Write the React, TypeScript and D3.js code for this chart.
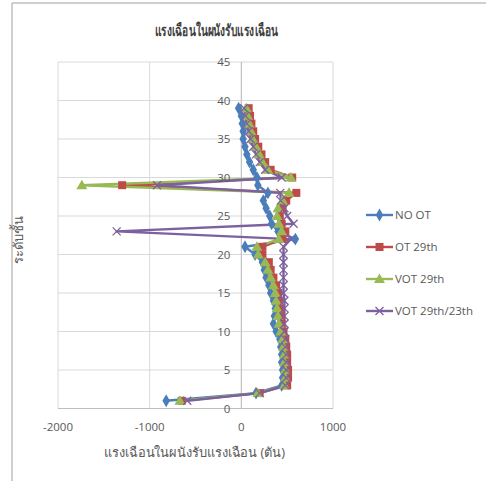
import React from "react";
import * as d3 from "d3";

// Storey levels (1..39)
const floors: number[] = d3.range(1, 40);

// Shear force in the shear walls (tons), listed by storey from floor 1 upward
const noOT: number[] = [
  -820, 160, 440, 450, 450, 440, 440, 430, 420, 380,
  350, 360, 370, 350, 320, 300, 270, 250, 230, 150,
  40, 590, 400, 330, 310, 270, 240, 290, 180, 170,
  130, 90, 60, 40, 20, 20, 10, 0, -30,
];
const ot29: number[] = [
  -650, 200, 500, 510, 510, 500, 500, 490, 480, 460,
  440, 430, 420, 410, 400, 380, 350, 320, 300, 230,
  230, 450, 480, 440, 420, 450, 490, 600, -1300, 555,
  320, 260, 220, 185, 150, 130, 110, 95, 80,
];
const vot29: number[] = [
  -670, 180, 470, 480, 480, 470, 470, 460, 450, 430,
  410, 400, 390, 380, 370, 350, 320, 290, 260, 185,
  170, 410, 440, 410, 390, 400, 450, 520, -1740, 540,
  290, 230, 195, 160, 125, 105, 85, 70, 55,
];
const vot2923: number[] = [
  -590, 200, 480, 490, 490, 490, 490, 480, 480, 470,
  470, 470, 470, 470, 460, 460, 460, 460, 460, 460,
  460, 540, -1360, 570, 500, 470, 430, 425, -920, 440,
  260, 200, 160, 130, 100, 80, 60, 45, 30,
];

const seriesNames: string[] = ["NO OT", "OT 29th", "VOT 29th", "VOT 29th/23th"];
const seriesColors: string[] = ["#4A7EBB", "#BE4B48", "#98B954", "#7D60A0"];
const seriesValues: number[][] = [noOT, ot29, vot29, vot2923];
const markerKinds: string[] = ["diamond", "square", "triangle", "x"];

const xTicks: number[] = [-2000, -1000, 0, 1000];
const yTicks: number[] = [0, 5, 10, 15, 20, 25, 30, 35, 40, 45];

const title = "แรงเฉือนในผนังรับแรงเฉือน";
const xTitle = "แรงเฉือนในผนังรับแรงเฉือน (ตัน)";
const yTitle = "ระดับชั้น";

const W = 486;
const H = 481;
const plot = { left: 58, right: 333, top: 62, bottom: 408.5 };

const FONT = "'Open Sans', 'Noto Sans', 'DejaVu Sans', sans-serif";

function Marker({ kind, x, y, color }: { kind: string; x: number; y: number; color: string }) {
  if (kind === "diamond") {
    const s = d3.symbol(d3.symbolDiamond, 48)();
    return <path d={s || ""} transform={`translate(${x},${y})`} fill={color} />;
  }
  if (kind === "square") {
    return <rect x={x - 4} y={y - 4} width={8} height={8} fill={color} />;
  }
  if (kind === "triangle") {
    const s = d3.symbol(d3.symbolTriangle, 52)();
    return <path d={s || ""} transform={`translate(${x},${y + 0.8})`} fill={color} />;
  }
  const r = 4;
  return (
    <path
      d={`M${x - r},${y - r}L${x + r},${y + r}M${x - r},${y + r}L${x + r},${y - r}`}
      stroke={color}
      strokeWidth={1.3}
      fill="none"
    />
  );
}

export default function App() {
  const x = d3.scaleLinear().domain([-2000, 1000]).range([plot.left, plot.right]);
  const y = d3.scaleLinear().domain([0, 45]).range([plot.bottom, plot.top]);

  const line = d3
    .line<[number, number]>()
    .x((d) => x(d[0]))
    .y((d) => y(d[1]));

  const legendY = [215, 247, 279, 311];
  const gridColor = "#D9D9D9";
  const textColor = "#595959";

  return (
    <svg
      width={W}
      height={H}
      style={{ position: "absolute", left: 0, top: 0, background: "#fff" }}
      fontFamily={FONT}
    >
      {/* chart frame */}
      <line x1={12} y1={3} x2={W} y2={3} stroke="#BFBFBF" strokeWidth={1.5} />
      <line x1={12} y1={3} x2={12} y2={H} stroke="#BFBFBF" strokeWidth={1.5} />

      {/* gridlines */}
      {yTicks.map((t) => (
        <line key={"gy" + t} x1={plot.left} x2={plot.right} y1={y(t)} y2={y(t)} stroke={gridColor} strokeWidth={1} />
      ))}
      {xTicks.map((t) => (
        <line key={"gx" + t} x1={x(t)} x2={x(t)} y1={plot.top} y2={plot.bottom} stroke={gridColor} strokeWidth={1} />
      ))}
      {/* value axis at zero */}
      <line x1={x(0)} x2={x(0)} y1={plot.top} y2={plot.bottom} stroke="#BFBFBF" strokeWidth={1} />
      <line x1={plot.left} x2={plot.right} y1={plot.bottom} y2={plot.bottom} stroke="#BFBFBF" strokeWidth={1} />

      {/* series lines */}
      {seriesValues.map((vals, i) => (
        <path
          key={"l" + i}
          d={line(vals.map((v, k) => [v, floors[k]] as [number, number])) || ""}
          fill="none"
          stroke={seriesColors[i]}
          strokeWidth={2.4}
          strokeLinejoin="round"
        />
      ))}
      {/* markers */}
      {seriesValues.map((vals, i) => (
        <g key={"m" + i}>
          {vals.map((v, k) => (
            <Marker key={k} kind={markerKinds[i]} x={x(v)} y={y(floors[k])} color={seriesColors[i]} />
          ))}
        </g>
      ))}

      {/* y tick labels beside the zero axis */}
      {yTicks.map((t) => (
        <text key={"ty" + t} x={x(0) - 11} y={y(t)} dy="0.35em" textAnchor="end" fontSize={11.5} fill={textColor}>
          {t}
        </text>
      ))}
      {/* x tick labels */}
      {xTicks.map((t) => (
        <text key={"tx" + t} x={x(t)} y={427} dy="0.35em" textAnchor="middle" fontSize={11.5} fill={textColor}>
          {t}
        </text>
      ))}

      {/* titles */}
      <text
        x={155}
        y={36}
        fontSize={16}
        fontWeight="bold"
        fill="#404040"
        textLength={123}
        lengthAdjust="spacingAndGlyphs"
      >
        {title}
      </text>
      <text x={104} y={457} fontSize={13} fill={textColor} textLength={181} lengthAdjust="spacingAndGlyphs">
        {xTitle}
      </text>
      <text
        transform={`translate(23,240) rotate(-90)`}
        textAnchor="middle"
        fontSize={13}
        fill={textColor}
      >
        {yTitle}
      </text>

      {/* legend */}
      {seriesNames.map((n, i) => (
        <g key={"lg" + i}>
          <line x1={366} x2={393} y1={legendY[i]} y2={legendY[i]} stroke={seriesColors[i]} strokeWidth={2.4} />
          <Marker kind={markerKinds[i]} x={379.5} y={legendY[i]} color={seriesColors[i]} />
          <text x={395} y={legendY[i]} dy="0.35em" fontSize={11.5} fill={textColor}>
            {n}
          </text>
        </g>
      ))}
    </svg>
  );
}
